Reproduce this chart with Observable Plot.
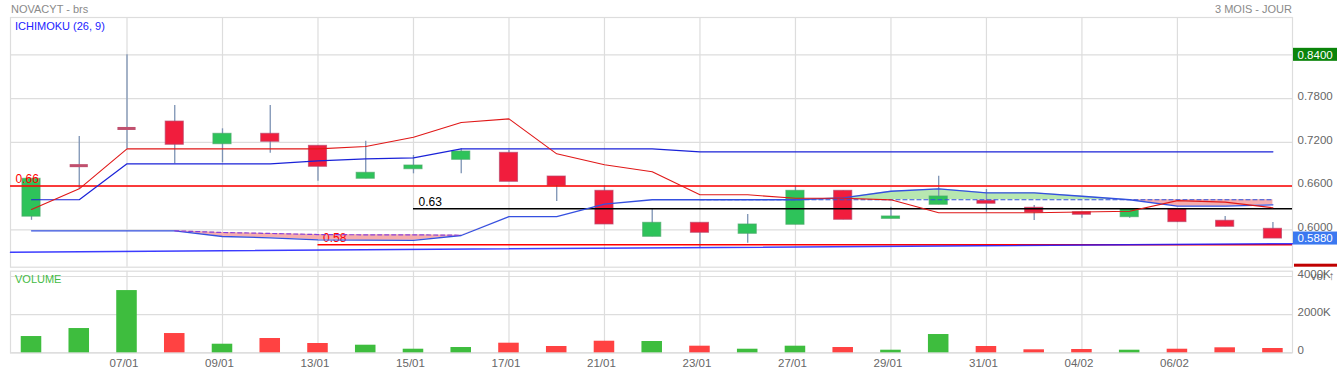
<!DOCTYPE html>
<html><head><meta charset="utf-8">
<script src="https://cdn.jsdelivr.net/npm/d3@7"></script>
<script src="https://cdn.jsdelivr.net/npm/@observablehq/plot@0.6"></script>
<style>
body{margin:0;background:#fff;font-family:"Liberation Sans",Arial,sans-serif;}
#wrap{position:relative;width:1337px;height:373px;overflow:hidden;}
#price{position:absolute;left:0;top:0;}
#vol{position:absolute;left:0;top:268px;}
.lbl{position:absolute;font-size:11px;white-space:nowrap;line-height:13px;}
svg{overflow:visible;}
</style></head><body>
<div id="wrap">
  <div id="price"></div>
  <div id="vol"></div>
  <div class="lbl" style="left:11px;top:3px;color:#8a8a8a">NOVACYT - brs</div>
  <div class="lbl" style="right:45px;top:3px;color:#8a8a8a">3 MOIS - JOUR</div>
  <div class="lbl" style="left:15px;top:20px;color:#2222ff">ICHIMOKU (26, 9)</div>
  <div class="lbl" style="left:15px;top:273px;color:#44bb44">VOLUME</div>
</div>
<script>
// ---- data ----
const dates = ["03/01","06/01","07/01","08/01","09/01","10/01","13/01","14/01","15/01","16/01","17/01","20/01","21/01","22/01","23/01","24/01","27/01","28/01","29/01","30/01","31/01","03/02","04/02","05/02","06/02","07/02","10/02"];
const open  = [0.618,0.688,0.739,0.7485,0.7174,0.7317,0.7152,0.670,0.6831,0.696,0.7056,0.6731,0.6535,0.5904,0.6096,0.5945,0.6069,0.6535,0.615,0.6343,0.640,0.6302,0.6241,0.6173,0.6283,0.6124,0.6014];
const close = [0.670,0.688,0.739,0.7166,0.7317,0.7207,0.6864,0.6782,0.6882,0.7074,0.6658,0.6604,0.6073,0.6096,0.5959,0.6073,0.6535,0.6137,0.6183,0.6457,0.6357,0.6237,0.6206,0.6278,0.6105,0.6041,0.588];
const high  = [0.670,0.728,0.840,0.7705,0.7385,0.7705,0.7152,0.7215,0.7019,0.7111,0.7088,0.6731,0.6604,0.6283,0.6096,0.621,0.660,0.6535,0.631,0.6735,0.6553,0.6333,0.6241,0.6278,0.6283,0.6183,0.610];
const low   = [0.613,0.656,0.711,0.6905,0.6919,0.705,0.6667,0.670,0.6768,0.6768,0.6658,0.6388,0.6073,0.5904,0.5753,0.5816,0.6069,0.6137,0.615,0.6343,0.6241,0.6128,0.616,0.616,0.610,0.6041,0.588];
const volumeK = [853,1272,3262,1010,450,749,487,398,188,277,503,330,607,592,346,188,346,277,136,958,330,157,173,136,188,262,225];
const tenkan = [0.6278,0.6562,0.711,0.711,0.711,0.711,0.711,0.7142,0.727,0.7472,0.7522,0.7042,0.6892,0.6796,0.648,0.648,0.6433,0.6433,0.6411,0.6233,0.6233,0.6233,0.6245,0.6255,0.640,0.6379,0.6302];
const kijun  = [0.6412,0.6412,0.6905,0.6905,0.6905,0.6905,0.6945,0.6974,0.6987,0.711,0.711,0.711,0.711,0.711,0.707,0.707,0.707,0.707,0.707,0.707,0.707,0.707,0.707,0.707,0.707,0.707,0.707];
const spanA  = [0.5986,0.5986,0.5986,0.5986,0.5908,0.589,0.5862,0.5858,0.5855,0.5922,0.6182,0.6182,0.6351,0.6412,0.6412,0.6412,0.6412,0.6439,0.6529,0.6562,0.6507,0.6507,0.646,0.6412,0.6324,0.6324,0.6343];
const spanB  = [null,null,null,0.5986,0.5963,0.595,0.5935,0.5931,0.5931,0.5925,null,null,null,null,0.6412,0.6412,0.6412,0.6412,0.6412,0.6412,0.6412,0.6412,0.6412,0.6412,0.6412,0.6412,0.6412];
const levels = [{v:0.66, from:null, label:"0.66", color:"#ff0000"},{v:0.5795, from:6, label:"0.58", color:"#ff0000"},{v:0.6288, from:8, label:"0.63", color:"#000000"}];
const trendLine = [{i:-0.44, v:0.5693},{i:26.41, v:0.5810}];
const priceTicks = [0.60,0.66,0.72,0.78,0.84];
const volTicks = [0,2000,4000];
const labelIdx = [2,4,6,8,10,12,14,16,18,20,22,24];

// ---- derived tables ----
const X_DOMAIN = [-0.44, 26.41];
const Y_DOMAIN = [0.5487, 0.8912];
const candles = dates.map((d,i)=>({i, date:d, open:open[i], close:close[i], high:high[i], low:low[i], vol:volumeK[i], up: close[i] >= open[i]}));
const bodies = candles.filter(c=>c.open!==c.close);
const dojis = candles.filter(c=>c.open===c.close);
const ichi = dates.map((d,i)=>({i, tenkan:tenkan[i], kijun:kijun[i], a:spanA[i], b:spanB[i]}));
const cloud = ichi.map(d=>{const b = d.b==null ? d.a : d.b; return {i:d.i, a:d.a, b, top:Math.max(d.a,b)};});
const dashed = ichi.filter(d=>d.b!=null);
const maxHigh = d3.max(high);
const lastClose = close[close.length-1];
const xEnd = X_DOMAIN[1], xStart = X_DOMAIN[0];
const HW = 0.19;
const font = '"Liberation Sans", Arial, sans-serif';

const price = Plot.plot({
  width:1337, height:268, marginLeft:10, marginRight:45, marginTop:17, marginBottom:1.3,
  x:{domain:X_DOMAIN, axis:null},
  y:{domain:Y_DOMAIN, axis:null},
  style:{fontFamily:font, fontSize:"11px", background:"transparent", overflow:"visible"},
  marks:[
    Plot.gridY(priceTicks, {stroke:"#dddddd", strokeOpacity:1, strokeWidth:1.2}),
    Plot.gridX(labelIdx, {stroke:"#dddddd", strokeOpacity:1, strokeWidth:1.2}),
    Plot.frame({stroke:"#dddddd", strokeWidth:1.2}),
    // cloud fills
    Plot.areaY(cloud, {x:"i", y1:"a", y2:"top", fill:"#f6a9a9", fillOpacity:0.95}),
    Plot.areaY(cloud, {x:"i", y1:"b", y2:"top", fill:"#b3e6ac", fillOpacity:0.95}),
    // candles
    Plot.ruleX(candles, {x:"i", y1:"low", y2:"high", stroke:"#7d93b4", strokeWidth:1.3}),
    Plot.rect(bodies, {x1:d=>d.i-HW, x2:d=>d.i+HW, y1:"open", y2:"close",
      fill:d=>d.up?"#2ec35a":"#f11d3d", stroke:d=>d.up?"#4aa86a":"#b8466a", strokeWidth:1, strokeOpacity:0.7}),
    Plot.ruleY(dojis, {y:"close", x1:d=>d.i-HW, x2:d=>d.i+HW, stroke:"#c0506e", strokeWidth:3}),
    // horizontal levels
    Plot.ruleY(levels, {y:"v", x1:d=>d.from==null?xStart:d.from, x2:xEnd, stroke:"color", strokeWidth:1.5}),
    Plot.text(levels, {y:"v", x:d=>d.from==null?xStart:d.from, text:"label", fill:"color", dx:5, dy:-3, textAnchor:"start", lineAnchor:"bottom", fontSize:12}),
    Plot.line(trendLine, {x:"i", y:"v", stroke:"#1a1aff", strokeWidth:1.5, strokeOpacity:0.85}),
    // ichimoku lines
    Plot.line(ichi, {x:"i", y:"a", stroke:"#3550e0", strokeWidth:1.3}),
    Plot.line(dashed, {x:"i", y:"b", z:d=>d.i<12?"early":"late", stroke:d=>d.i<12?"#8a40d8":"#3052dc", strokeWidth:1.2, strokeDasharray:"4,3"}),
    Plot.line(ichi, {x:"i", y:"kijun", stroke:"#1a22d8", strokeWidth:1.2}),
    Plot.line(ichi, {x:"i", y:"tenkan", stroke:"#e01818", strokeWidth:1.1}),
    // right axis
    Plot.axisY(priceTicks, {anchor:"right", tickSize:0, tickPadding:5, tickFormat:d3.format(".4f"), color:"#666666", dy:-2.5, fontSize:11.5}),
    // value boxes
    Plot.rect([maxHigh], {x1:xEnd, x2:xEnd, y1:d=>d, y2:d=>d, insetLeft:1, insetRight:-45, insetTop:-6.5, insetBottom:-6.5, fill:"#0a840a"}),
    Plot.text([maxHigh], {x:xEnd, y:d=>d, text:d=>d3.format(".4f")(d), dx:5, textAnchor:"start", fill:"#ffffff", fontSize:11.5}),
    Plot.rect([lastClose], {x1:xEnd, x2:xEnd, y1:d=>d, y2:d=>d, insetLeft:1, insetRight:-45, insetTop:-6.5, insetBottom:-6.5, fill:"#3b78f0"}),
    Plot.text([lastClose], {x:xEnd, y:d=>d, text:d=>d3.format(".4f")(d), dx:5, textAnchor:"start", fill:"#ffffff", fontSize:11.5}),
    Plot.rect([Y_DOMAIN[0]], {x1:xEnd, x2:xEnd, y1:d=>d, y2:d=>d, insetLeft:2, insetRight:-45, insetTop:-3, insetBottom:0, fill:"#c00000"})
  ]
});
document.getElementById("price").appendChild(price);

const vol = Plot.plot({
  width:1337, height:105, marginLeft:10, marginRight:45, marginTop:2.7, marginBottom:20.7,
  x:{domain:X_DOMAIN, axis:null},
  y:{domain:[0,4277], axis:null},
  style:{fontFamily:font, fontSize:"11px", background:"transparent", overflow:"visible"},
  marks:[
    Plot.gridY(volTicks, {stroke:"#dddddd", strokeOpacity:1, strokeWidth:1.2}),
    Plot.gridX(labelIdx, {stroke:"#dddddd", strokeOpacity:1, strokeWidth:1.2}),
    Plot.frame({stroke:"#dddddd", strokeWidth:1.2}),
    Plot.rectY(candles, {x1:d=>d.i-0.215, x2:d=>d.i+0.215, y:"vol", fill:d=>d.up?"#3ebd3e":"#ff4242"}),
    Plot.axisY(volTicks, {anchor:"right", tickSize:0, tickPadding:5, tickFormat:d=>d?d+"K":"0", color:"#666666", dy:-2, fontSize:11.5}),
    Plot.axisX(labelIdx, {tickSize:0, tickPadding:6, tickFormat:i=>dates[i], color:"#666666", dx:-3, fontSize:11.5})
  ]
});
document.getElementById("vol").appendChild(vol);
</script>
</body></html>
